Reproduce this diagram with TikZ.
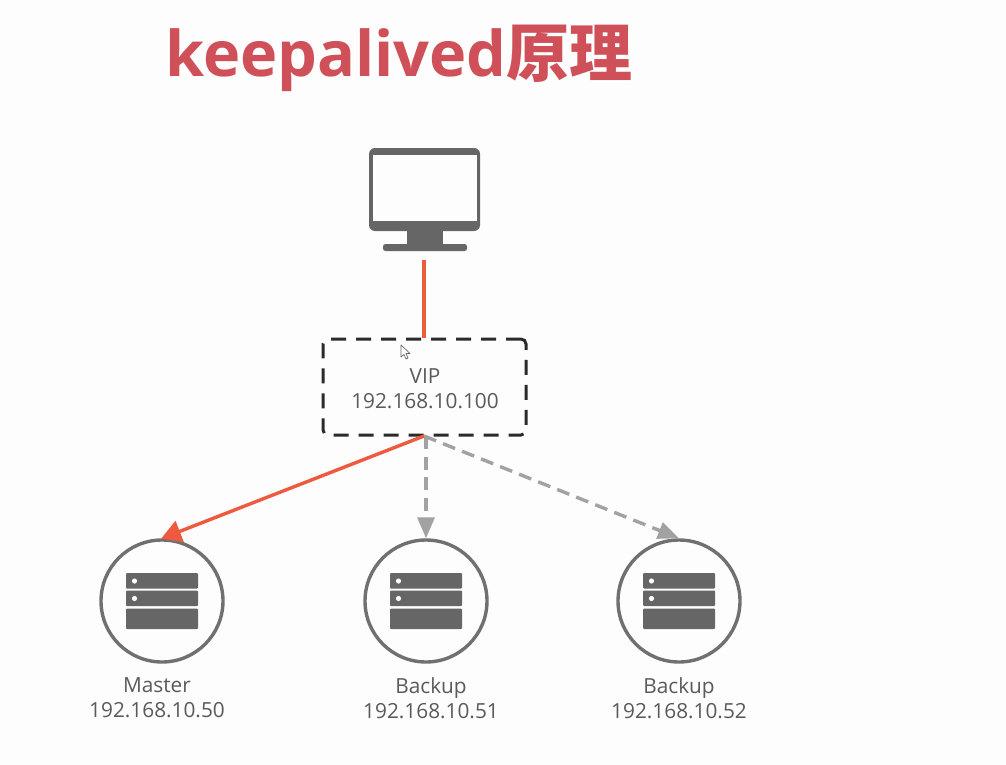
\documentclass[tikz,border=0pt]{standalone}
\usepackage{fontspec}
\setmainfont{Open Sans}
\newfontfamily\titlelat[Scale=1]{Open Sans}
\newfontfamily\titlecjk{Noto Sans CJK SC}
\usetikzlibrary{arrows.meta}
\definecolor{bgc}{HTML}{FCFDFC}
\definecolor{icon}{HTML}{666666}
\definecolor{ringc}{HTML}{707070}
\definecolor{txt}{HTML}{5A5A5A}
\definecolor{redl}{HTML}{EE5A40}
\definecolor{greyl}{HTML}{A2A2A2}
\definecolor{titlec}{HTML}{CF5059}
\definecolor{dashc}{HTML}{2A2A2A}
\tikzset{
  srv/.style={circle,draw=ringc,line width=3.4pt,minimum size=122pt,inner sep=0pt,fill=white},
  lbl/.style={text=txt,font=\fontsize{20.8}{25}\selectfont,align=center,inner sep=0pt},
  vipbox/.style={draw=dashc,line width=3pt,rounded corners=5pt,dash pattern=on 15pt off 10pt,minimum width=203pt,minimum height=96pt,inner sep=0pt,fill=white},
  link/.style={draw=redl,line width=3.4pt},
  redarrow/.style={link,-{Triangle[length=20pt,width=22pt,fill=redl]},shorten >=-1pt},
  greyarrow/.style={draw=greyl,line width=3.4pt,dash pattern=on 13pt off 7.5pt,-{Triangle[length=21pt,width=17pt,fill=greyl]}},
  mono/.style={fill=icon,draw=none}
}
\newcommand{\servericon}[1]{%
  \begin{scope}[shift={(#1)}]
    \fill[icon,rounded corners=1pt] (-36,-28) rectangle (36,-12.5);
    \fill[icon,rounded corners=1pt] (-36,-10.5) rectangle (36,5);
    \fill[icon,rounded corners=1pt] (-36,7.5) rectangle (36,28);
    \fill[bgc] (-27.5,-20) circle (2.6);
    \fill[bgc] (-27.5,-2.5) circle (2.6);
  \end{scope}}
\begin{document}
\begin{tikzpicture}[x=1pt,y=-1pt]
\useasboundingbox (0,0) rectangle (1006,765);
\fill[bgc] (0,0) rectangle (1006,765);
% title
\node[anchor=base west,inner sep=0pt,text=titlec,font=\fontsize{63}{70}\selectfont\bfseries] (title) at (165,77) {\titlelat keepalived\titlecjk 原理};
% monitor
\coordinate (monbottom) at (424,260);
\fill[icon,rounded corners=6pt] (369,148) rectangle (480,231);
\fill[bgc] (373,155) rectangle (477,221);
\fill[icon] (407,229) rectangle (443,246);
\fill[icon,rounded corners=2.5pt] (383,244) rectangle (467,251);
% vip
\node[vipbox,fill=none] (vip) at (424.5,387) {};
\node[lbl] (viptext) at (425,389) {VIP\\192.168.10.100};
% servers
\node[srv,fill=none] (s1) at (162,601) {};
\node[srv,fill=none] (s2) at (426,601) {};
\node[srv,fill=none] (s3) at (679,601) {};
\servericon{162,601}
\servericon{426,601}
\servericon{679,601}
% labels
\node[lbl] (l1) at (157,698) {Master\\192.168.10.50};
\node[lbl] (l2) at (431,698) {Backup\\192.168.10.51};
\node[lbl] (l3) at (679,698) {Backup\\192.168.10.52};
% connectors
\draw[link] (monbottom) -- (vip.north -| monbottom);
\coordinate (vb) at (424,436);
\coordinate (vb2) at (426,436);
\draw[greyarrow] (vb2) -- (s2.north);
\draw[greyarrow] (vb) -- (s3.north);
\draw[redarrow] (vb) -- (s1.north);
% pointer
\draw[fill=white,draw=icon,line width=0.7pt,line join=round] (401,345) -- (401,357) -- (404,354.5) -- (406,359) -- (408,358) -- (406,353.5) -- (410,353.5) -- cycle;
\end{tikzpicture}
\end{document}
